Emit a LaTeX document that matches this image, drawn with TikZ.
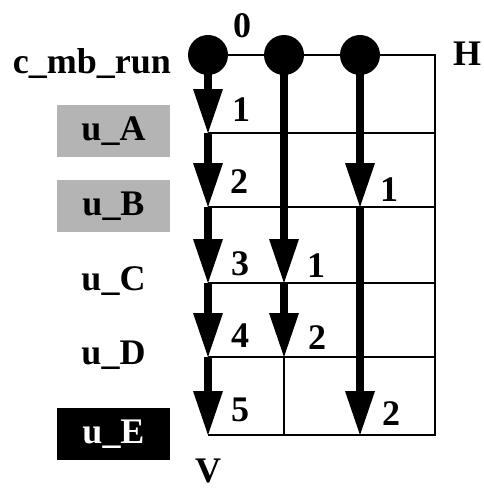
\documentclass[tikz,border=0pt]{standalone}
\usepackage{fontspec}
\setmainfont{Liberation Serif}
\usetikzlibrary{arrows.meta}
\definecolor{boxgray}{RGB}{180,180,180}
\tikzset{
  lbl/.style={font=\fontsize{36}{40}\selectfont\bfseries, inner sep=0pt},
  num/.style={font=\fontsize{36}{40}\selectfont\bfseries, inner sep=0pt},
  tagbox/.style={lbl, minimum width=113pt, minimum height=52pt},
  gridline/.style={line width=2pt},
  flow/.style={line width=8pt, -{Triangle[length=44pt,width=30pt,line width=0pt]}},
  dot/.style={circle, fill=black, minimum size=40pt, inner sep=0pt}
}
\begin{document}
\begin{tikzpicture}[x=1pt,y=-1pt]
\useasboundingbox (0,0) rectangle (483,490);

% grid points: columns x = 208, 284, 360, 435; rows y = 55 ... 435
\coordinate (a0) at (208,55);  \coordinate (b0) at (284,55);  \coordinate (c0) at (360,55);  \coordinate (d0) at (435,55);
\coordinate (a1) at (208,133); \coordinate (d1) at (435,133);
\coordinate (a2) at (208,207); \coordinate (c2) at (360,207); \coordinate (d2) at (435,207);
\coordinate (a3) at (208,283); \coordinate (b3) at (284,283); \coordinate (d3) at (435,283);
\coordinate (a4) at (208,357); \coordinate (b4) at (284,357); \coordinate (d4) at (435,357);
\coordinate (a5) at (208,435); \coordinate (b5) at (284,435); \coordinate (c5) at (360,435); \coordinate (d5) at (435,435);

% thin grid
\draw[gridline] (a0) -- (d0) -- (d5) -- (a5);
\draw[gridline] (a1) -- (d1);
\draw[gridline] (a2) -- (d2);
\draw[gridline] (a3) -- (d3);
\draw[gridline] (a4) -- (d4);
\draw[gridline] (b4) -- (b5);

% flows down the columns
\draw[flow] (a0) -- (a1);
\draw[flow] (a1) -- (a2);
\draw[flow] (a2) -- (a3);
\draw[flow] (a3) -- (a4);
\draw[flow] (a4) -- (a5);
\draw[flow] (b0) -- (b3);
\draw[flow] (b3) -- (b4);
\draw[flow] (c0) -- (c2);
\draw[flow] (c2) -- (c5);

% start dots
\node[dot] (s1) at (a0) {};
\node[dot] (s2) at (b0) {};
\node[dot] (s3) at (c0) {};

% step numbers
\node[num] (n0) at (242,26) {0};
\node[num] (a1n) at (241,110) {1};
\node[num] (a2n) at (239,182) {2};
\node[num] (a3n) at (240,264) {3};
\node[num] (a4n) at (240,336) {4};
\node[num] (a5n) at (240,410) {5};
\node[num] (b3n) at (316,266) {1};
\node[num] (b4n) at (317,338) {2};
\node[num] (c2n) at (389,190) {1};
\node[num] (c5n) at (391,414) {2};

% axis letters
\node[lbl] (h) at (467,54) {H};
\node[lbl] (v) at (208,471) {V};

% row labels
\node[lbl, anchor=base] (run) at (92,73) {c\_mb\_run};
\node[tagbox, fill=boxgray] (ua) at (113.5,131) {u\_A};
\node[tagbox, fill=boxgray] (ub) at (113.5,206) {u\_B};
\node[lbl] (uc) at (113.5,281) {u\_C};
\node[lbl] (ud) at (113.5,355) {u\_D};
\node[tagbox, fill=black, text=white] (ue) at (113.5,434) {u\_E};
\end{tikzpicture}
\end{document}
